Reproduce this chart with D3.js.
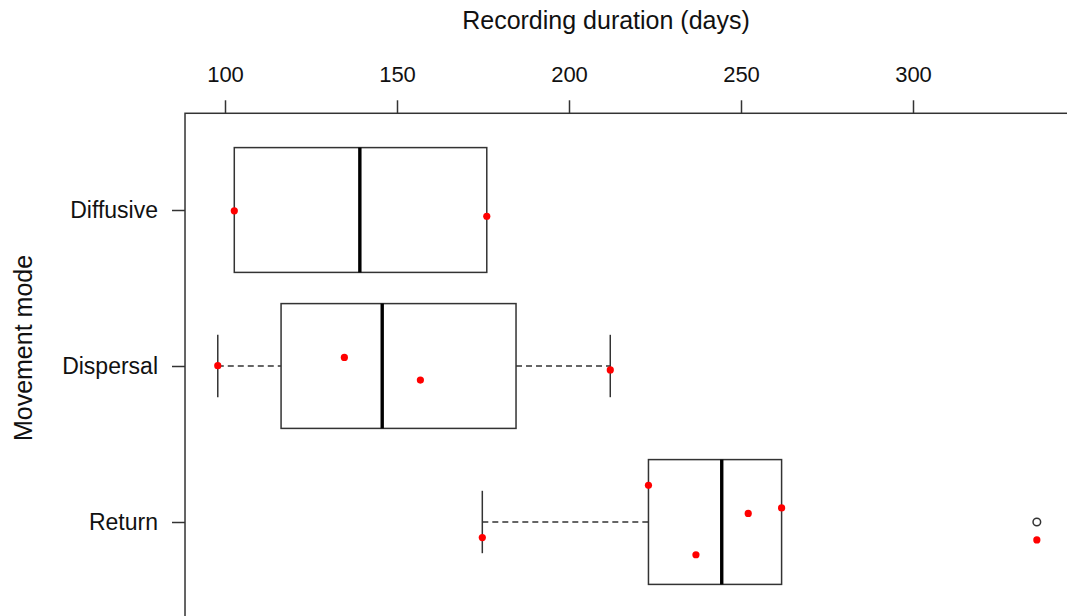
<!DOCTYPE html>
<html><head><meta charset="utf-8">
<script src="https://cdn.jsdelivr.net/npm/d3@7"></script>
<style>body{margin:0;background:#fff}svg{display:block}text{font-family:Arial,"Liberation Sans",sans-serif;fill:#111}</style>
</head><body>
<script>
// ---- data ----
const categories = ["Diffusive", "Dispersal", "Return"];
const whiskerLow  = [102.7, 97.9, 174.8];
const q1          = [102.7, 116.3, 223.1];
const medians     = [139.2, 145.7, 244.4];
const q3          = [176.1, 184.6, 261.8];
const whiskerHigh = [176.1, 212.0, 261.8];
const outliers    = [[], [], [336.0]];
// raw observations (red dots) with vertical jitter in category units
const pointCat    = [0, 0, 1, 1, 1, 1, 2, 2, 2, 2, 2, 2];
const pointValue  = [102.7, 176.1, 97.9, 134.7, 156.8, 212.0, 174.8, 223.1, 236.9, 252.1, 261.8, 336.0];
const pointJitter = [0.005, 0.04, -0.002, -0.055, 0.09, 0.025, 0.1, -0.235, 0.21, -0.055, -0.09, 0.115];
const xTicks = [100, 150, 200, 250, 300];

const W = 1067, H = 616;
const svg = d3.select("body").append("svg").attr("width", W).attr("height", H);

const x = d3.scaleLinear().domain([100, 300]).range([225, 913]);
const y = d3.scaleLinear().domain([0, 2]).range([210, 522]);
const boxHalf = 0.4; // in category units
const stroke = "#333", sw = 1.5;
const font = "Arial, 'Liberation Sans', sans-serif";

// plot frame (R extends ranges by 4%)
const allVals = pointValue.concat(whiskerLow, whiskerHigh);
const xmin = d3.min(allVals), xmax = d3.max(allVals);
const ext = (xmax - xmin) * 0.04;
const yExt = 3 * 0.04;
svg.append("rect")
  .attr("x", x(xmin - ext)).attr("y", y(-0.5 - yExt))
  .attr("width", x(xmax + ext) - x(xmin - ext))
  .attr("height", y(2.5 + yExt) - y(-0.5 - yExt))
  .attr("fill", "none").attr("stroke", stroke).attr("stroke-width", sw);

// top axis
const xAxis = d3.axisTop(x).tickValues(xTicks).tickSize(13).tickPadding(18).tickFormat(d3.format("d"));
const gx = svg.append("g").attr("transform", `translate(0,${y(-0.5 - yExt)})`).call(xAxis);
gx.select(".domain").remove();
gx.selectAll("line").attr("stroke", stroke).attr("stroke-width", sw);
gx.selectAll("text").attr("font-size", 22).attr("fill", "#111").style("font-family", font);

// left axis
const yAxis = d3.axisLeft(y).tickValues([0, 1, 2]).tickSize(13).tickPadding(14).tickFormat(i => categories[i]);
const gy = svg.append("g").attr("transform", `translate(${x(xmin - ext)},0)`).call(yAxis);
gy.select(".domain").remove();
gy.selectAll("line").attr("stroke", stroke).attr("stroke-width", sw);
gy.selectAll("text").attr("font-size", 23).attr("fill", "#111").style("font-family", font);

// titles
svg.append("text").attr("x", 606).attr("y", 29).attr("text-anchor", "middle").attr("font-size", 25).text("Recording duration (days)");
svg.append("text").attr("transform", `translate(32,348) rotate(-90)`).attr("text-anchor", "middle").attr("font-size", 25).text("Movement mode");

// boxes
const g = svg.append("g");
categories.forEach((c, i) => {
  const cy = y(i);
  const bh = y(i + boxHalf) - y(i);
  if (whiskerLow[i] < q1[i]) {
    g.append("line").attr("x1", x(whiskerLow[i])).attr("x2", x(q1[i])).attr("y1", cy).attr("y2", cy)
      .attr("stroke", stroke).attr("stroke-width", sw).attr("stroke-dasharray", "6,4");
  }
  if (whiskerHigh[i] > q3[i]) {
    g.append("line").attr("x1", x(q3[i])).attr("x2", x(whiskerHigh[i])).attr("y1", cy).attr("y2", cy)
      .attr("stroke", stroke).attr("stroke-width", sw).attr("stroke-dasharray", "6,4");
  }
  [whiskerLow[i], whiskerHigh[i]].forEach(v => {
    if (v === q1[i] || v === q3[i]) return;
    g.append("line").attr("x1", x(v)).attr("x2", x(v)).attr("y1", cy - bh / 2).attr("y2", cy + bh / 2)
      .attr("stroke", stroke).attr("stroke-width", sw);
  });
  g.append("rect").attr("x", x(q1[i])).attr("y", cy - bh).attr("width", x(q3[i]) - x(q1[i])).attr("height", 2 * bh)
    .attr("fill", "#fff").attr("stroke", stroke).attr("stroke-width", sw);
  g.append("line").attr("x1", x(medians[i])).attr("x2", x(medians[i])).attr("y1", cy - bh).attr("y2", cy + bh)
    .attr("stroke", "#000").attr("stroke-width", 3.4);
  outliers[i].forEach(v => {
    g.append("circle").attr("cx", x(v)).attr("cy", cy).attr("r", 3.8)
      .attr("fill", "none").attr("stroke", stroke).attr("stroke-width", 1.5);
  });
});

// red points
svg.append("g").selectAll("circle").data(pointValue).join("circle")
  .attr("cx", d => x(d))
  .attr("cy", (d, k) => y(pointCat[k] + pointJitter[k]))
  .attr("r", 3.6).attr("fill", "#ff0000");
</script>
</body></html>
